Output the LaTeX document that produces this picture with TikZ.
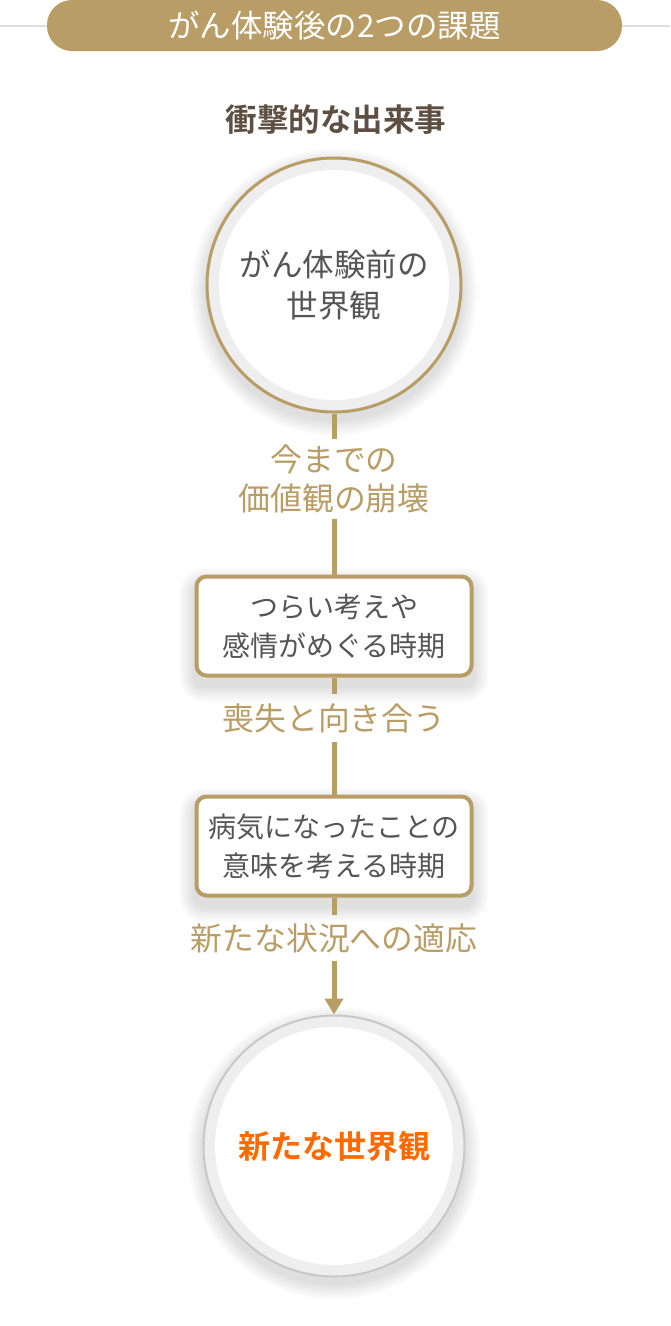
\documentclass[tikz,border=0pt]{standalone}
\usepackage{fontspec}
\newfontfamily\jp{Noto Sans CJK JP}[BoldFont={Noto Sans CJK JP Bold}]
\usetikzlibrary{calc,arrows.meta,backgrounds}
\definecolor{gold}{HTML}{B89D66}
\definecolor{inkgray}{HTML}{555555}
\definecolor{headbrown}{HTML}{5E4F43}
\definecolor{ringgray}{HTML}{EEEEEE}
\definecolor{rimgray}{HTML}{C8C8C8}
\definecolor{rulegray}{HTML}{DDDDDD}
\definecolor{neworange}{HTML}{FF6A00}

\tikzset{
  titlepill/.style={fill=gold, rounded corners=25pt, minimum width=575pt, minimum height=51pt, text=white, font=\jp\fontsize{31.5}{34}\selectfont},
  worldview/.style={circle, inner sep=0pt, fill=ringgray, align=center},
  phasebox/.style={draw=gold, line width=4pt, rounded corners=10pt, fill=white, minimum width=275pt, minimum height=99pt, align=center, text=inkgray, font=\jp\fontsize{28}{39}\selectfont},
  shiftlabel/.style={text=gold, align=center, inner sep=6pt, outer sep=0pt, font=\jp\fontsize{31.8}{39}\selectfont},
  flow/.style={draw=gold, line width=5pt}
}

\begin{document}
\begin{tikzpicture}[x=1pt,y=-1pt]
\useasboundingbox (0,0) rectangle (670,1326);
\draw[line width=2pt, rulegray] (0,26) -- (670,26);
\node[titlepill] (title) at (334.5,25.5) {がん体験後の2つの課題};
\node[font=\jp\bfseries\fontsize{31.5}{36}\selectfont, text=headbrown] (event) at (336,120) {衝撃的な出来事};

% before / after circles
\node[worldview, draw=gold, line width=3pt, minimum size=254pt, text=inkgray, font=\jp\fontsize{31.5}{41}\selectfont,
  path picture={\fill[white] (path picture bounding box.center) circle[radius=115pt];}] (before) at (334,285) {がん体験前の\\世界観};
\node[worldview, draw=rimgray, line width=2pt, minimum size=261pt, text=neworange, font=\jp\bfseries\fontsize{32}{36}\selectfont,
  path picture={\fill[white] (path picture bounding box.center) circle[radius=119pt];}] (after) at (334,1146) {新たな世界観};

% phases
\node[phasebox] (grief) at (334,626) {つらい考えや\\感情がめぐる時期};
\node[phasebox] (meaning) at (334,846) {病気になったことの\\意味を考える時期};

% transitions
\node[shiftlabel] (collapse) at (334,479) {今までの\\価値観の崩壊};
\node[shiftlabel, inner sep=9pt] (loss) at (334,718) {喪失と向き合う};
\node[shiftlabel, inner sep=8pt] (adapt) at (334,938) {新たな状況への適応};

\begin{scope}[on background layer]
\foreach \s in {1,...,16} {
  \fill[black, opacity=0.008] ($(before.center)+(0,7)$) circle[radius=128pt+\s pt];
  \fill[black, opacity=0.008] ($(after.center)+(0,7)$) circle[radius=131pt+\s pt];
}
\foreach \b in {grief,meaning} {
  \foreach \s in {1,...,16} {
    \fill[black, opacity=0.008, rounded corners=10pt+\s pt] ($(\b.north west)+(-\s,-\s+9)$) rectangle ($(\b.south east)+(\s,\s+9)$);
  }
}
\draw[flow] (before.south) -- (collapse.north);
\draw[flow] (collapse.south) -- (grief.north);
\draw[flow] (grief.south) -- (loss.north);
\draw[flow] (loss.south) -- (meaning.north);
\draw[flow] (meaning.south) -- (adapt.north);
\draw[flow, -{Triangle[length=16pt,width=18pt]}] (adapt.south) -- (after.north);
\end{scope}
\end{tikzpicture}
\end{document}
